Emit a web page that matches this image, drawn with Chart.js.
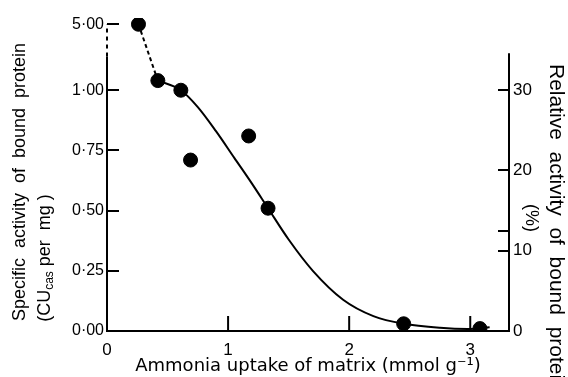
<!DOCTYPE html>
<html>
<head>
<meta charset="utf-8">
<title>Bound protein activity vs ammonia uptake</title>
<script src="https://cdn.jsdelivr.net/npm/chart.js@4.4.1/dist/chart.umd.min.js"></script>
<style>
  html, body { margin: 0; padding: 0; background: #fff; }
  #wrap { width: 568px; height: 377px; }
</style>
</head>
<body>
<div id="wrap"><canvas id="activityChart" width="568" height="377"></canvas></div>
<script>
// measured points: ammonia uptake (mmol/g) vs specific activity (CU per mg)
const uptake = [0.26, 0.42, 0.61, 0.69, 1.17, 1.33, 2.45, 3.08];
const specificActivity = [5.00, 1.04, 1.00, 0.71, 0.81, 0.51, 0.03, 0.01];

// hand-drawn trend line through the data
const curveUptake = [0.42, 0.61, 0.75, 0.90, 1.05, 1.20, 1.33, 1.50, 1.70, 1.95, 2.20, 2.45, 2.75, 2.98, 3.16];
const curveActivity = [1.04, 1.00, 0.93, 0.83, 0.72, 0.61, 0.51, 0.38, 0.25, 0.13, 0.062, 0.03, 0.013, 0.008, 0.016];

// dashed join across the axis break
const breakUptake = [0.26, 0.42];
const breakActivity = [5.00, 1.04];

// tick labels
const xTicks = [0, 1, 2, 3];
const yTicks = [0, 0.25, 0.50, 0.75, 1.00, 5.00];
const yTickLabels = ['0·00', '0·25', '0·50', '0·75', '1·00', '5·00'];
const pctTicks = [0, 10, 12.5, 20, 30];
const pctTickLabels = ['0', '10', '', '20', '30'];

const leftTitle = 'Specific  activity  of  bound  protein';
const rightTitle = ['Relative  activity  of  bound  protein', '(%)'];
const xTitle = 'Ammonia uptake of matrix (mmol g\u207B\u00B9)';

// the y axis is broken above 1.14: the stretch up to 5.00 is squeezed
const Y_TOP = 1.30;
const Y_BREAK = 1.14;
function toAxis(v) {
    return v <= Y_BREAK ? v : Y_BREAK + (v - Y_BREAK) * 0.0347;
}

function points(xs, ys) {
    return xs.map((x, i) => ({ x: x, y: toAxis(ys[i]) }));
}

function noPadding(s) {
    s.paddingTop = 0;
    s.paddingBottom = 0;
    s.paddingLeft = 0;
    s.paddingRight = 0;
}

const TICK_FONT = { family: 'Liberation Sans', size: 17 };
const TITLE_FONT = '18px "Liberation Sans"';
const SUB_FONT = '12px "Liberation Sans"';

const axisDecor = {
    id: 'axisDecor',
    afterDraw(chart) {
        const ctx = chart.ctx;
        const xs = chart.scales.x;
        const ys = chart.scales.y;
        const ps = chart.scales.pct;
        const left = xs.getPixelForValue(0);
        const right = xs.right;
        const bottom = ys.getPixelForValue(0);
        ctx.save();
        ctx.strokeStyle = '#000';
        ctx.lineWidth = 2;

        // left axis, solid up to the break and dashed above it
        ctx.beginPath();
        ctx.moveTo(left, bottom);
        ctx.lineTo(left, ys.getPixelForValue(Y_BREAK));
        ctx.stroke();
        ctx.setLineDash([4, 4]);
        ctx.beginPath();
        ctx.moveTo(left, ys.getPixelForValue(Y_BREAK));
        ctx.lineTo(left, ys.getPixelForValue(toAxis(5)));
        ctx.stroke();
        ctx.setLineDash([]);

        // right axis
        ctx.beginPath();
        ctx.moveTo(right, ps.getPixelForValue(0) + 1);
        ctx.lineTo(right, ps.getPixelForValue(34.6));
        ctx.stroke();

        // x ticks point up into the plot
        xs.ticks.forEach(t => {
            if (t.value === 0) return;
            const px = xs.getPixelForValue(t.value);
            ctx.beginPath();
            ctx.moveTo(px, bottom);
            ctx.lineTo(px, bottom - 15);
            ctx.stroke();
        });

        // axis titles
        ctx.fillStyle = '#000';
        ctx.font = TITLE_FONT;
        ctx.textBaseline = 'middle';

        ctx.save();
        ctx.translate(20, 182);
        ctx.rotate(-Math.PI / 2);
        ctx.textAlign = 'center';
        ctx.fillText(leftTitle, 0, 0);
        ctx.restore();

        // second line carries a subscript, so it is set piece by piece
        ctx.save();
        ctx.translate(45, 258);
        ctx.rotate(-Math.PI / 2);
        ctx.textAlign = 'left';
        const a = '(CU', sub = 'cas', b = ' per  mg )';
        const wa = ctx.measureText(a).width;
        const wb = ctx.measureText(b).width;
        ctx.font = SUB_FONT;
        const ws = ctx.measureText(sub).width;
        let pos = -(wa + ws + wb) / 2;
        ctx.font = TITLE_FONT;
        ctx.fillText(a, pos, 0);
        pos += wa;
        ctx.font = SUB_FONT;
        ctx.fillText(sub, pos, 5);
        pos += ws;
        ctx.font = TITLE_FONT;
        ctx.fillText(b, pos, 0);
        ctx.restore();

        ctx.font = '21px "Liberation Sans"';
        ctx.save();
        ctx.translate(556, 64);
        ctx.rotate(Math.PI / 2);
        ctx.textAlign = 'left';
        ctx.fillText(rightTitle[0], 0, 0);
        ctx.restore();

        ctx.font = TITLE_FONT;
        ctx.save();
        ctx.translate(531, 218);
        ctx.rotate(Math.PI / 2);
        ctx.textAlign = 'center';
        ctx.fillText(rightTitle[1], 0, 0);
        ctx.restore();

        ctx.restore();
    }
};

const ctx = document.getElementById('activityChart');

new Chart(ctx, {
    type: 'scatter',
    data: {
        datasets: [
            {
                data: points(uptake, specificActivity),
                backgroundColor: '#000',
                borderColor: '#000',
                pointRadius: 7,
                pointHoverRadius: 7,
                showLine: false
            },
            {
                data: points(curveUptake, curveActivity),
                borderColor: '#000',
                borderWidth: 2,
                pointRadius: 0,
                showLine: true,
                cubicInterpolationMode: 'monotone'
            },
            {
                data: points(breakUptake, breakActivity),
                borderColor: '#000',
                borderWidth: 2,
                borderDash: [4, 3],
                pointRadius: 0,
                showLine: true
            }
        ]
    },
    options: {
        responsive: false,
        devicePixelRatio: 1,
        animation: false,
        layout: { padding: { top: 18, left: 0, right: 0, bottom: 0 } },
        plugins: {
            legend: { display: false },
            tooltip: { enabled: false }
        },
        scales: {
            x: {
                type: 'linear',
                min: 0,
                max: 3.32,
                afterBuildTicks: s => { s.ticks = xTicks.map(v => ({ value: v })); },
                afterFit: s => { s.height = 46; noPadding(s); },
                border: { display: true, color: '#000', width: 2 },
                grid: { drawOnChartArea: false, drawTicks: false },
                ticks: { color: '#000', font: TICK_FONT, padding: 9, maxRotation: 0 },
                title: {
                    display: true,
                    text: xTitle,
                    color: '#000',
                    font: { family: 'DejaVu Sans', size: 18 },
                    padding: { top: 0, bottom: 0 }
                }
            },
            y: {
                type: 'linear',
                position: 'left',
                min: 0,
                max: Y_TOP,
                afterBuildTicks: s => { s.ticks = yTicks.map(v => ({ value: toAxis(v) })); },
                afterFit: s => { s.width = 107; noPadding(s); },
                border: { display: false },
                grid: { drawOnChartArea: false, color: '#000', lineWidth: 2, tickLength: -12 },
                ticks: {
                    color: '#000',
                    font: { family: 'Liberation Sans', size: 16 },
                    padding: 15,
                    callback: (v, i) => yTickLabels[i]
                }
            },
            pct: {
                type: 'linear',
                position: 'right',
                min: 0,
                max: Y_TOP * 30,
                afterBuildTicks: s => { s.ticks = pctTicks.map(v => ({ value: v })); },
                afterFit: s => { s.width = 59; noPadding(s); },
                border: { display: false },
                grid: { drawOnChartArea: false, color: '#000', lineWidth: 2, tickLength: -11 },
                ticks: {
                    color: '#000',
                    font: TICK_FONT,
                    padding: 15,
                    callback: (v, i) => pctTickLabels[i]
                }
            }
        }
    },
    plugins: [axisDecor]
});
</script>
</body>
</html>
